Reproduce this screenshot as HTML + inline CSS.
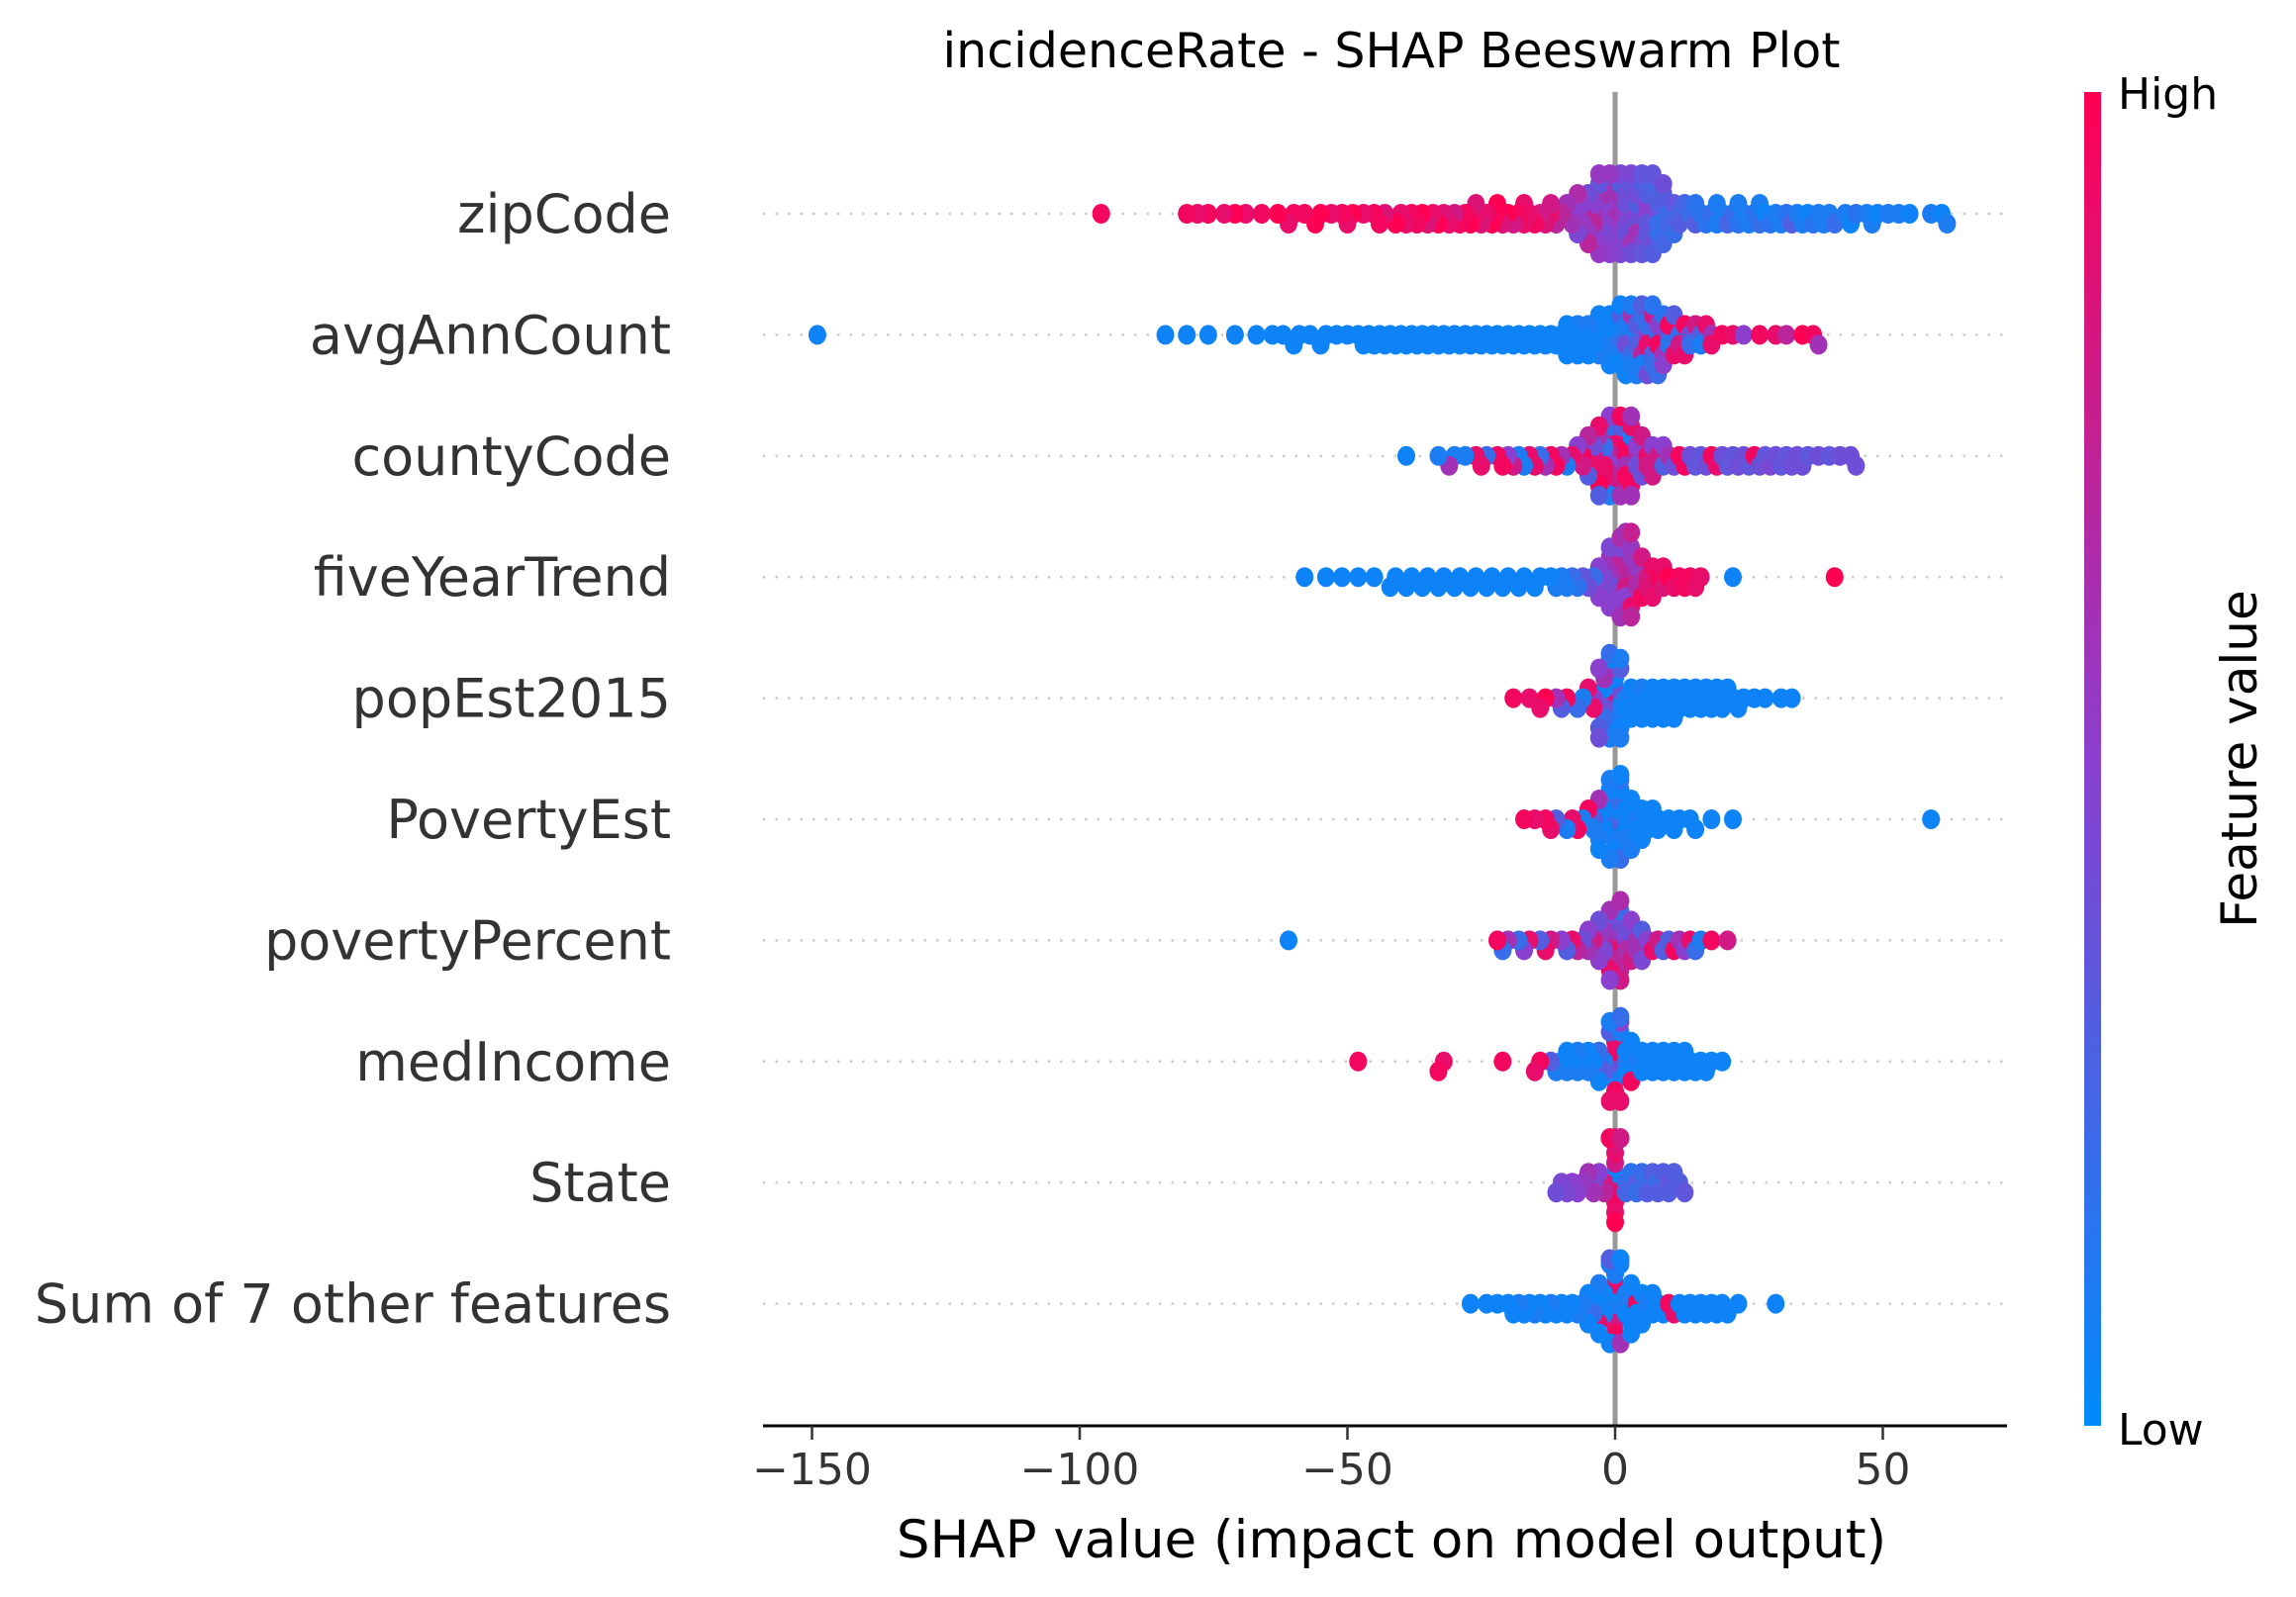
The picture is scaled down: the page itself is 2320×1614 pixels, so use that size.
<!DOCTYPE html>
<html><head><meta charset="utf-8"><style>
html,body{margin:0;padding:0;background:#fff;}
svg{display:block;font-family:"DejaVu Sans","Liberation Sans",sans-serif;}
</style></head><body>
<svg id="chart" width="2320" height="1614" viewBox="0 0 2320 1614" xmlns="http://www.w3.org/2000/svg">
<defs><linearGradient id="cb" x1="0" y1="1" x2="0" y2="0">
<stop offset="0" stop-color="#008bfb"/><stop offset="0.5" stop-color="#8a3fce"/><stop offset="1" stop-color="#ff0052"/></linearGradient></defs>
<text x="1406" y="68" font-size="49" text-anchor="middle" fill="#000">incidenceRate - SHAP Beeswarm Plot</text>
<g id="grid"></g><g id="labels"></g>
<line x1="1632" y1="93" x2="1632" y2="1441" stroke="#999" stroke-width="5"/>
<g id="dots"></g>
<line x1="771" y1="1441" x2="2028" y2="1441" stroke="#000" stroke-width="3"/>
<g id="ticks"></g>
<text x="1406" y="1574" font-size="53" text-anchor="middle" fill="#000">SHAP value (impact on model output)</text>
<rect x="2106" y="93" width="17" height="1348" fill="url(#cb)"/>
<text x="2140" y="110" font-size="44" fill="#000">High</text>
<text x="2140" y="1460" font-size="44" fill="#000">Low</text>
<text transform="translate(2280,767) rotate(-90)" font-size="50" text-anchor="middle" fill="#000">Feature value</text>
</svg>
<script>
const features=["zipCode","avgAnnCount","countyCode","fiveYearTrend","popEst2015","PovertyEst","povertyPercent","medIncome","State","Sum of 7 other features"];
const tickValues=[-150,-100,-50,0,50];
const tickLabels=["\u2212150","\u2212100","\u221250","0","50"];
const shap0=[-96,-80,-78,-76,-73,-71,-69,-66,-63,-61,-58,-56,-53,-51,-49,-47,-45,-43,-41,-39,-37,-35,-33,-31,-30,-28,-27,-25,-24,-22,-20,-19,-17,-15,-13,-12,-10,-9,-8,-7,-6,-5,-5,-4,-3,-3,-2,-2,-1,-1,0,0,1,1,2,2,3,3,4,4,5,5,6,6,7,7,8,9,10,11,12,-4,-2,0,2,4,6,8,-3,1,5,13,14,15,17,18,20,21,23,25,27,29,31,33,35,37,39,41,43,45,47,49,51,53,55,59,61,62,
-44,-40,-36,-32,-29,-26,-23,-21,-18,-16,-14,-11,-8,-6,-4,-2,0,2,4,6,8,10,-7,-3,-1,1,3,5,7,9,-5,0,4,8,16,19,22,24,26,28,30,32,34,36,38,40,44,48,-60,-55,-50,-38,-34,-26,-22,-17,-12,-6,-2,2,6,-1,3,7,11,15,19,23,27,12,9];
const feat0=[.95,.95,.9,.95,.9,1,.9,.95,1,.9,.95,1,.9,.95,1,.9,.95,.85,1,.9,.95,.85,1,.9,.8,.95,1,.85,.9,.95,1,.8,.9,.95,.85,.9,.7,.6,.5,.45,.7,.55,.4,.6,.5,.35,.65,.5,.45,.55,.4,.6,.5,.3,.55,.45,.6,.35,.5,.4,.45,.3,.5,.35,.4,.25,.45,.3,.2,.35,.25,.7,.5,.6,.4,.3,.5,.2,.55,.45,.35,.25,.2,.3,.15,.2,.1,.25,.15,.1,.2,.15,.1,.3,.1,.15,.1,.2,.1,.15,.1,.05,.1,.1,.05,.1,.05,.1,
.95,.9,1,.85,.95,.9,1,.85,.95,.9,.8,.7,.6,.55,.5,.45,.5,.4,.6,.35,.3,.25,.65,.55,.5,.45,.4,.35,.3,.25,.7,.6,.4,.2,.15,.1,.2,.1,.15,.05,.1,.15,.1,.05,.1,.1,.05,.1,.95,1,.9,.95,.9,.85,1,.9,.8,.5,.6,.4,.3,.55,.45,.35,.2,.15,.1,.1,.1,.3,.4];
const shap1=[-149,-84,-80,-76,-71,-67,-64,-62,-59,-57,-54,-52,-50,-48,-46,-44,-42,-40,-38,-36,-34,-32,-30,-28,-26,-24,-22,-20,-18,-16,-14,-12,-10,-9,-8,-7,-6,-5,-4,-3,-2,-1,-1,0,0,1,1,2,2,3,3,4,4,5,5,6,6,7,7,8,8,9,10,11,12,13,14,15,16,17,18,20,22,24,27,30,32,35,37,38,-6,-4,-2,0,2,4,6,8,10,12,
-45,-41,-37,-33,-29,-25,-21,-17,-13,-11,-9,-7,-5,-3,-1,1,3,5,7,9,11,13,2,4,6,8,10,3,5,7,9,1,-2,-8,-15,-19,-23,-27,-31,-35,-39,-43,-47,-55,-60,14,16,18];
const feat1=[.05,.05,.05,.05,.05,.05,.05,.05,.05,.05,.05,.05,.05,.05,.05,.05,.05,.05,.05,.05,.05,.05,.05,.05,.05,.05,.05,.05,.05,.05,.05,.05,.05,.05,.05,.1,.05,.1,.05,.1,.05,.1,.05,.1,.2,.1,.3,.15,.4,.2,.6,.1,.3,.7,.2,.5,.9,.3,.8,.2,.95,.6,.3,.9,.2,.95,.4,.8,.3,.9,.6,.95,.9,.5,.95,.9,.7,1,.95,.6,.05,.05,.1,.05,.1,.3,.2,.5,.15,.8,
.05,.05,.05,.05,.05,.05,.05,.05,.05,.05,.05,.05,.05,.05,.05,.05,.1,.1,.2,.15,.3,.9,.05,.1,.4,.2,.95,.1,.3,.15,.5,.05,.05,.05,.05,.05,.05,.05,.05,.05,.05,.05,.05,.05,.05,.2,.1,.9];
const shap2=[-39,-33,-31,-28,-25,-22,-20,-18,-16,-14,-12,-10,-9,-8,-7,-6,-5,-4,-3,-3,-2,-2,-1,-1,0,0,1,1,2,2,3,3,4,5,6,7,8,9,10,-4,-2,0,2,4,-6,-1,1,3,12,14,16,18,20,22,24,26,28,30,32,34,36,38,40,42,45,
-30,-26,-24,-21,-19,-17,-15,-13,-11,-5,-3,-1,1,3,5,-4,-2,0,2,4,6,-3,0,3,7,9,11,13,15,17,19,21,23,25,27,29,31,33,35,44];
const feat2=[.05,.1,.6,.1,.9,.95,.5,.1,.9,.2,.95,.6,.1,.9,.5,.95,.3,.8,.6,1,.4,.9,.7,.2,.95,.5,.8,.3,.9,.6,.1,.95,.7,.4,.9,.5,.8,.3,.6,.9,.2,.7,.95,.4,.8,.1,.6,.9,.95,.4,.35,.95,.4,.35,.4,.95,.35,.4,.35,.4,.35,.4,.35,.4,.4,
.1,.9,.2,.95,.8,.1,.9,.6,.95,.7,.9,.5,.95,.6,.8,.4,.9,.7,.95,.5,.8,.3,.9,.6,.8,.5,.4,.95,.35,.4,.9,.35,.4,.35,.4,.45,.35,.4,.4,.4];
const shap3=[-58,-54,-51,-48,-45,-41,-38,-35,-32,-29,-26,-23,-20,-17,-14,-11,-9,-7,-5,-4,-3,-2,-1,0,0,1,1,2,2,3,3,4,5,6,7,8,9,10,11,12,14,16,22,41,-1,0,1,2,3,4,2,
-42,-39,-36,-33,-30,-27,-24,-21,-18,-15,-12,-10,-8,-6,-3,-1,1,3,5,7,0,2,4,-2,1,3,6,9,13,15];
const feat3=[.05,.05,.05,.05,.05,.05,.05,.05,.05,.05,.05,.05,.05,.05,.05,.1,.1,.15,.4,.2,.5,.45,.6,.55,.4,.7,.5,.6,.8,.55,.9,.7,.95,.8,.9,.95,.85,1,.9,.95,.95,.9,.05,1,.5,.6,.45,.7,.55,.65,.5,
.05,.05,.05,.05,.05,.05,.05,.05,.05,.05,.05,.1,.2,.35,.5,.45,.6,.7,.8,.9,.5,.6,.55,.45,.65,.75,.85,.9,.95,.9];
const shap4=[-19,-16,-13,-11,-9,-7,-5,-4,-3,-2,-2,-1,-1,0,0,1,1,2,-3,-2,-1,0,-4,-2,3,4,5,6,7,8,9,10,11,12,13,14,15,16,17,18,19,20,21,22,23,24,26,28,31,33,
-14,-10,-6,-3,-1,1,3,-2,0,2,4,6,8,10,12,14,16,18,20,5,7,9,11,-1,0,1];
const feat4=[.95,.9,1,.6,.95,.2,.9,.5,.3,.8,.4,.1,.6,.2,.1,.05,.3,.1,.5,.05,.1,.4,.9,.2,.05,.05,.1,.05,.05,.05,.05,.05,.05,.05,.05,.05,.05,.05,.05,.05,.05,.05,.05,.05,.05,.05,.05,.05,.05,.05,
.9,.3,.1,.4,.05,.1,.05,.6,.1,.05,.05,.05,.05,.05,.05,.05,.05,.05,.05,.05,.05,.05,.05,.2,.05,.1];
const shap5=[-17,-15,-13,-11,-8,-6,-5,-4,-3,-2,-1,0,0,1,1,2,3,4,-2,-1,0,1,2,-3,0,5,6,7,8,10,12,15,18,22,59,
-12,-9,-7,-4,-2,0,2,4,6,-1,1,3,-3,0,2,5,8,11,14];
const feat5=[.95,.9,.95,.3,.9,.1,.95,.3,.1,.2,.05,.1,.3,.05,.2,.1,.05,.1,.05,.1,.05,.15,.05,.6,.1,.05,.05,.05,.05,.05,.05,.05,.05,.05,.05,
.9,.1,.95,.1,.05,.2,.05,.05,.05,.1,.05,.1,.05,.05,.1,.05,.05,.05,.05];
const shap6=[-61,-22,-20,-18,-16,-14,-12,-10,-8,-6,-5,-4,-3,-2,-1,0,0,1,1,2,3,4,5,-2,0,2,-1,1,6,8,10,12,14,16,18,21,
-21,-17,-13,-9,-7,-5,-3,-1,1,3,5,7,-2,0,2,4,-1,1,9,11,13,15];
const feat6=[.05,.95,.6,.2,.9,.3,.8,.5,.9,.4,.6,.8,.5,.7,.3,.6,.9,.4,.7,.5,.8,.6,.3,.45,.55,.65,.9,.2,.5,.8,.3,.6,.9,.1,.95,.8,
.2,.5,.9,.3,.7,.5,.4,.6,.8,.5,.45,.9,.55,.7,.4,.6,.5,.65,.3,.95,.5,.2];
const shap7=[-48,-33,-32,-21,-15,-14,-12,-10,-9,-8,-7,-6,-5,-4,-3,-2,-1,0,0,1,1,2,3,4,5,-1,0,1,0,2,6,7,8,9,10,11,12,13,14,15,16,17,18,20,
-11,-9,-7,-5,-3,-1,1,3,5,7,9,11,13,-2,0,2,0,1];
const feat7=[.95,.95,.9,.95,.9,.95,.3,.05,.1,.05,.1,.05,.1,.05,.2,.1,.3,.05,.4,.1,.9,.2,.95,.1,.05,.9,.95,.5,.1,.05,.05,.05,.05,.05,.05,.05,.05,.05,.05,.05,.05,.05,.05,.05,
.1,.05,.1,.05,.05,.1,.05,.05,.05,.05,.05,.05,.05,.3,.9,.05,.95,.2];
const shap8=[-11,-9,-7,-5,-4,-3,-2,-1,-1,0,0,0,1,1,2,0,-1,0,1,0,3,4,5,6,7,8,9,10,11,12,13,
-10,-8,-6,-4,-2,0,2,4,6,8,10,0,-1,1,0,0,-1,1,0,0];
const feat8=[.4,.45,.5,.6,.45,.5,.8,.95,.9,1,.85,.05,.1,.9,.2,.95,.4,.8,.1,.9,.15,.3,.2,.2,.3,.2,.3,.35,.3,.3,.35,
.45,.5,.55,.6,.7,.9,.25,.2,.3,.3,.3,1,.9,.95,.85,.1,.95,.8,1,.9];
const shap9=[-27,-24,-20,-18,-16,-14,-12,-10,-8,-6,-5,-4,-3,-2,-1,0,0,1,1,2,3,4,5,6,-2,-1,0,1,2,-3,0,3,-1,1,0,7,8,10,12,14,16,18,20,23,30,
-22,-19,-17,-15,-13,-11,-9,-7,-5,-3,-1,1,3,5,7,9,11,13,15,17,19,21,-4,-2,0,2,4,-1,1,0];
const feat9=[.05,.05,.05,.1,.05,.05,.1,.05,.05,.1,.05,.05,.9,.1,.05,.05,.1,.6,.05,.1,.05,.95,.05,.1,.05,.1,.05,.95,.05,.1,.8,.05,.1,.05,.9,.05,.05,.95,.05,.05,.05,.05,.05,.05,.05,
.05,.05,.05,.1,.05,.05,.05,.1,.05,.05,.1,.05,.05,.05,.05,.05,.9,.05,.05,.05,.05,.05,.2,.05,.95,.1,.05,.3,.05,.1];
const shapRows=[shap0,shap1,shap2,shap3,shap4,shap5,shap6,shap7,shap8,shap9];
const featRows=[feat0,feat1,feat2,feat3,feat4,feat5,feat6,feat7,feat8,feat9];

const NS="http://www.w3.org/2000/svg";
const X0=1632,XS=5.41;
function xScale(v){return X0+v*XS;}
function yRow(i){return 216+i*122.4;}
function lerp(a,b,t){return a+(b-a)*t;}
function color(t){
  const s=[[0,139,251],[138,63,206],[255,0,82]];
  let a,b,u; if(t<0.5){a=s[0];b=s[1];u=t/0.5;}else{a=s[1];b=s[2];u=(t-0.5)/0.5;}
  return `rgb(${Math.round(lerp(a[0],b[0],u))},${Math.round(lerp(a[1],b[1],u))},${Math.round(lerp(a[2],b[2],u))})`;
}
const grid=document.getElementById('grid'),labels=document.getElementById('labels'),dots=document.getElementById('dots'),ticks=document.getElementById('ticks');
features.forEach((f,i)=>{
  const y=yRow(i);
  const g=document.createElementNS(NS,'line');
  
  
  g.setAttribute('x1',771);g.setAttribute('x2',2028);g.setAttribute('y1',y);g.setAttribute('y2',y);
  g.setAttribute('stroke','#ccc');g.setAttribute('stroke-width',2.5);g.setAttribute('stroke-dasharray','2.5 10');
  grid.appendChild(g);
  const t=document.createElementNS(NS,'text');
  
  
  t.setAttribute('x',678);t.setAttribute('y',y+19);t.setAttribute('text-anchor','end');
  t.setAttribute('font-size',54);t.setAttribute('fill','#333');t.textContent=f;
  labels.appendChild(t);
  const sv=shapRows[i],fv=featRows[i];
  const idx=sv.map((v,k)=>k).sort((a,b)=>Math.abs(sv[a])-Math.abs(sv[b]));
  const placed=[];
  idx.forEach(k=>{
    const px=xScale(sv[k]);let off=0;
    for(let n=0;n<24;n++){
      const o=(n%2?1:-1)*Math.ceil(n/2)*5;
      if(Math.abs(o)>46){break;}
      if(placed.every(p=>(p[0]-px)**2+(p[1]-o)**2>=81)){off=o;break;}
      off=o;
    }
    placed.push([px,off]);
    const c=document.createElementNS(NS,'ellipse');
    
    
    c.setAttribute('cx',px);c.setAttribute('cy',y+off);c.setAttribute('rx',9);c.setAttribute('ry',10);
    c.setAttribute('fill',color(fv[k]));
    dots.appendChild(c);
  });
});
tickValues.forEach((v,i)=>{
  const x=xScale(v);
  const l=document.createElementNS(NS,'line');
  
  
  l.setAttribute('x1',x);l.setAttribute('x2',x);l.setAttribute('y1',1441);l.setAttribute('y2',1455);
  l.setAttribute('stroke','#333');l.setAttribute('stroke-width',2.5);ticks.appendChild(l);
  const t=document.createElementNS(NS,'text');
  
  
  t.setAttribute('x',x);t.setAttribute('y',1500);t.setAttribute('text-anchor','middle');
  t.setAttribute('font-size',44);t.setAttribute('fill','#333');t.textContent=tickLabels[i];
  ticks.appendChild(t);
});
</script>
</body></html>
